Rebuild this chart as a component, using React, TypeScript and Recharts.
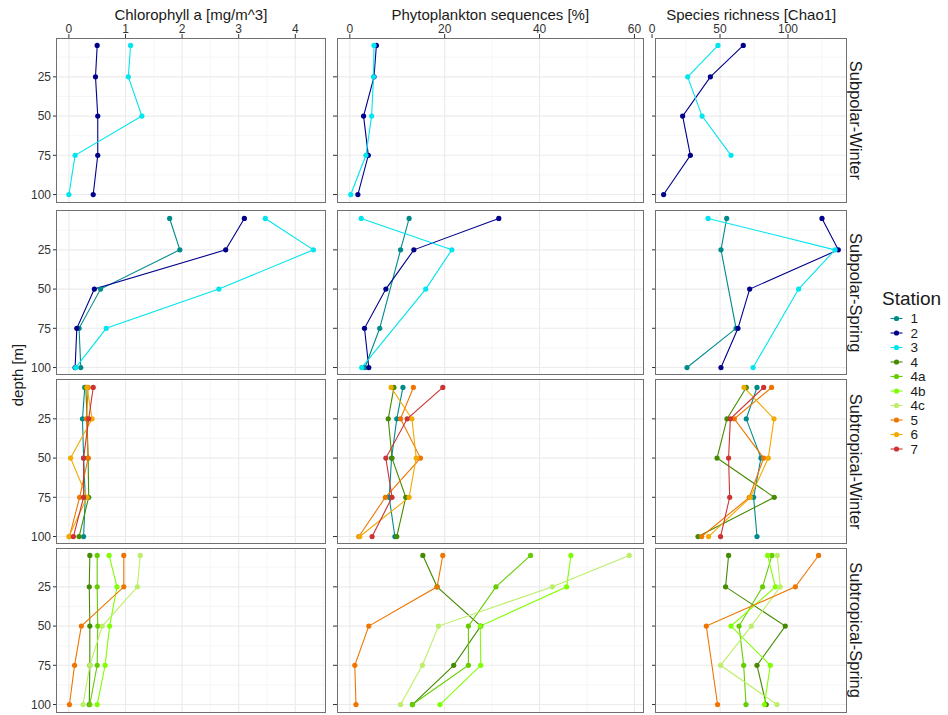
import React from "react";
import { LineChart, Line, XAxis, YAxis, CartesianGrid } from "recharts";

type Profile = (number | null | undefined)[];
type PanelData = Record<string, Profile>;

// undefined = depth not sampled (line joins neighbours), null = missing value (line breaks)
const _ = undefined;

const depths = [5, 25, 50, 75, 100];
const depthTicks = [25, 50, 75, 100];
const depthMinor = [12.5, 37.5, 62.5, 87.5];

const regions = ["Subpolar-Winter", "Subpolar-Spring", "Subtropical-Winter", "Subtropical-Spring"];
const stations = ["1", "2", "3", "4", "4a", "4b", "4c", "5", "6", "7"];

const stationColors: Record<string, string> = {
  "1": "#008B8B",
  "2": "#00008B",
  "3": "#00E5EE",
  "4": "#458B00",
  "4a": "#66CD00",
  "4b": "#7FFF00",
  "4c": "#BCEE68",
  "5": "#EE7600",
  "6": "#F2A900",
  "7": "#CD3333",
};

// Chlorophyll a [mg/m^3], values at depths 5/25/50/75/100 m
const chlSubpolarWinter: PanelData = {
  "2": [0.5, 0.47, 0.51, 0.51, 0.43],
  "3": [1.09, 1.05, 1.29, 0.11, 0.0],
};
const chlSubpolarSpring: PanelData = {
  "1": [1.78, 1.96, 0.56, 0.18, 0.21],
  "2": [3.1, 2.77, 0.45, 0.14, 0.11],
  "3": [3.47, 4.32, 2.65, 0.66, 0.12],
};
const chlSubtropicalWinter: PanelData = {
  "1": [0.28, 0.24, 0.26, 0.29, 0.26],
  "4": [0.3, 0.32, 0.34, 0.35, 0.18],
  "5": [0.34, 0.31, 0.34, 0.19, 0.01],
  "6": [0.32, 0.41, 0.03, 0.32, 0.0],
  "7": [0.43, 0.35, 0.26, 0.26, 0.08],
};
const chlSubtropicalSpring: PanelData = {
  "4": [0.37, 0.36, 0.37, 0.37, 0.36],
  "4a": [0.5, 0.5, 0.51, 0.5, 0.37],
  "4b": [0.71, 0.85, 0.72, 0.64, 0.5],
  "4c": [1.26, 1.21, 0.59, 0.37, 0.25],
  "5": [0.97, 0.97, 0.22, 0.1, 0.01],
};

// Phytoplankton sequences [%]
const phytoSubpolarWinter: PanelData = {
  "2": [5.6, 5.1, 2.9, 3.9, 1.7],
  "3": [5.1, 5.0, 4.6, 3.4, 0.2],
};
const phytoSubpolarSpring: PanelData = {
  "1": [12.5, 10.7, _, 6.3, 3.2],
  "2": [31.4, 13.5, 7.6, 3.1, 4.0],
  "3": [2.4, 21.5, 16.0, null, 2.5],
};
const phytoSubtropicalWinter: PanelData = {
  "1": [11.2, 9.9, 8.8, 8.3, 9.5],
  "4": [9.3, 8.1, 8.9, 11.8, 9.9],
  "5": [13.4, 10.7, 14.9, 7.5, 1.9],
  "6": [8.7, 13.1, 14.0, 12.5, 2.1],
  "7": [19.6, 12.1, 7.6, 8.9, 4.7],
};
const phytoSubtropicalSpring: PanelData = {
  "4": [15.4, 18.4, 27.6, 21.9, 13.2],
  "4a": [38.1, 30.8, 25.0, 25.0, 13.2],
  "4b": [46.6, 45.7, 27.5, 27.6, 19.0],
  "4c": [58.9, 42.7, 18.7, 15.3, 10.7],
  "5": [19.6, 18.4, 4.0, 1.05, 1.3],
};

// Species richness [Chao1]
const chaoSubpolarWinter: PanelData = {
  "2": [67.1, 42.9, 22.5, 28.2, 8.5],
  "3": [48.5, 26.2, 36.8, 58.1, _],
};
const chaoSubpolarSpring: PanelData = {
  "1": [54.9, 50.7, _, 61.8, 25.7],
  "2": [125.0, 137.0, 71.8, 63.2, 50.7],
  "3": [41.2, 134.6, 107.8, null, 74.3],
};
const chaoSubtropicalWinter: PanelData = {
  "1": [77.2, 69.3, 80.1, 74.7, 77.2],
  "4": [69.3, 55.1, 47.8, 89.9, 33.8],
  "5": [87.9, 60.5, 82.1, 71.5, 36.5],
  "6": [67.6, 89.7, 85.5, 72.3, 41.6],
  "7": [82.1, 57.6, 56.3, 57.1, 50.4],
};
const chaoSubtropicalSpring: PanelData = {
  "4": [56.3, 54.1, 98.0, 77.2, 84.0],
  "4a": [88.2, 81.3, 64.0, 67.4, 69.1],
  "4b": [85.0, 90.7, 58.1, 87.0, 82.6],
  "4c": [92.1, 94.3, 73.0, 50.4, 91.9],
  "5": [122.5, 105.4, 39.9, null, 48.2],
};

const chlTicks = [0, 1, 2, 3, 4];
const chlMinor = [0.5, 1.5, 2.5, 3.5, 4.5];
const phytoTicks = [0, 20, 40, 60];
const phytoMinor = [10, 30, 50];
const chaoTicks = [0, 50, 100];
const chaoMinor = [25, 75, 125];

const columns = [
  {
    title: "Chlorophyll a [mg/m^3]",
    panels: [chlSubpolarWinter, chlSubpolarSpring, chlSubtropicalWinter, chlSubtropicalSpring],
    ticks: chlTicks,
    minor: chlMinor,
    domain: [-0.21, 4.53] as [number, number],
  },
  {
    title: "Phytoplankton sequences [%]",
    panels: [phytoSubpolarWinter, phytoSubpolarSpring, phytoSubtropicalWinter, phytoSubtropicalSpring],
    ticks: phytoTicks,
    minor: phytoMinor,
    domain: [-2.7, 61.8] as [number, number],
  },
  {
    title: "Species richness [Chao1]",
    panels: [chaoSubpolarWinter, chaoSubpolarSpring, chaoSubtropicalWinter, chaoSubtropicalSpring],
    ticks: chaoTicks,
    minor: chaoMinor,
    domain: [2.9, 143.4] as [number, number],
  },
];

// facet layout (page pixels)
const colLeft = [56.7, 337.3, 655.7];
const colWidth = [268.3, 306, 191];
const rowTop = [38.4, 210.7, 379.7, 548.1];
const panelH = 164;
const depthDomain: [number, number] = [0.25, 104.75];

const FONT = "'Liberation Sans', Arial, Helvetica, sans-serif";
const inside = (vals: number[], d: [number, number]) => vals.filter((v) => v >= d[0] && v <= d[1]);

function toRows(p: Profile) {
  return depths
    .map((depth, i) => ({ depth, value: p[i] }))
    .filter((r) => r.value !== undefined);
}

function Facet({ col, row }: { col: number; row: number }) {
  const c = columns[col];
  const data = c.panels[row];
  const axisW = col === 0 ? 32 : 10;
  const axisH = row === 0 ? 20 : 0;
  const w = colWidth[col] + axisW;
  const h = panelH + axisH;
  return (
    <div style={{ position: "absolute", left: colLeft[col] - axisW, top: rowTop[row] - axisH, width: w, height: h }}>
      <LineChart layout="vertical" width={w} height={h} margin={{ top: 0, right: 0, bottom: 0, left: 0 }}>
        <CartesianGrid
          stroke="#f2f2f2"
          strokeWidth={0.7}
          verticalValues={inside(c.minor, c.domain)}
          horizontalValues={depthMinor}
        />
        <CartesianGrid
          stroke="#ebebeb"
          strokeWidth={1.1}
          verticalValues={inside(c.ticks, c.domain)}
          horizontalValues={depthTicks}
        />
        <XAxis
          type="number"
          orientation="top"
          domain={c.domain}
          ticks={c.ticks}
          allowDataOverflow
          interval={0}
          hide={row !== 0}
          height={axisH}
          axisLine={false}
          tickLine={{ stroke: "#333" }}
          tickSize={4}
          tickMargin={1}
          tick={{ fontSize: 12, fill: "#333" }}
        />
        {/* vertical layout already runs the y scale top-down, so depth grows downward */}
        <YAxis
          type="number"
          dataKey="depth"
          domain={depthDomain}
          ticks={depthTicks}
          allowDataOverflow
          interval={0}
          width={axisW}
          axisLine={false}
          tickLine={{ stroke: "#333" }}
          tickSize={4}
          tickMargin={2}
          tick={{ fontSize: 12, fill: "#333" }}
          tickFormatter={col === 0 ? undefined : () => ""}
        />
        {stations
          .filter((s) => data[s])
          .map((s) => (
            <Line
              key={s}
              data={toRows(data[s])}
              dataKey="value"
              stroke={stationColors[s]}
              strokeWidth={1.1}
              dot={{ r: 2.6, fill: stationColors[s], stroke: stationColors[s], strokeWidth: 0 }}
              activeDot={false}
              isAnimationActive={false}
            />
          ))}
      </LineChart>
      <div
        style={{
          position: "absolute",
          left: axisW - 0.6,
          top: axisH - 0.6,
          width: colWidth[col] + 1.2,
          height: panelH + 1.2,
          border: "1.2px solid #707070",
          boxSizing: "border-box",
          pointerEvents: "none",
        }}
      />
    </div>
  );
}

function Labels() {
  return (
    <svg width={948} height={715} style={{ position: "absolute", left: 0, top: 0 }} fontFamily={FONT}>
      {columns.map((c, i) => (
        <text key={c.title} x={colLeft[i] + colWidth[i] / 2} y={19.5} fontSize={15} textAnchor="middle" fill="#1a1a1a">
          {c.title}
        </text>
      ))}
      {regions.map((r, i) => (
        <text
          key={r}
          transform={`translate(850,${rowTop[i] + panelH / 2}) rotate(90)`}
          fontSize={16.5}
          textAnchor="middle"
          fill="#1a1a1a"
        >
          {r}
        </text>
      ))}
      <text transform="translate(23,375) rotate(-90)" fontSize={15} textAnchor="middle" fill="#1a1a1a">
        depth [m]
      </text>
      <text x={882} y={305} fontSize={19} fill="#1a1a1a">
        Station
      </text>
      {stations.map((s, i) => {
        const cy = 318.5 + i * 14.5;
        return (
          <g key={s}>
            <line x1={890.5} x2={902.5} y1={cy} y2={cy} stroke={stationColors[s]} strokeWidth={1.1} />
            <circle cx={896.5} cy={cy} r={2.6} fill={stationColors[s]} />
            <text x={910.5} y={cy + 4.8} fontSize={13.5} fill="#1a1a1a">
              {s}
            </text>
          </g>
        );
      })}
    </svg>
  );
}

export default function App() {
  return (
    <div
      style={{
        position: "absolute",
        left: 0,
        top: 0,
        width: 948,
        height: 715,
        background: "#fff",
        fontFamily: FONT,
        overflow: "hidden",
      }}
    >
      <Labels />
      {columns.map((_c, col) =>
        regions.map((_r, row) => <Facet key={`${col}-${row}`} col={col} row={row} />)
      )}
    </div>
  );
}
